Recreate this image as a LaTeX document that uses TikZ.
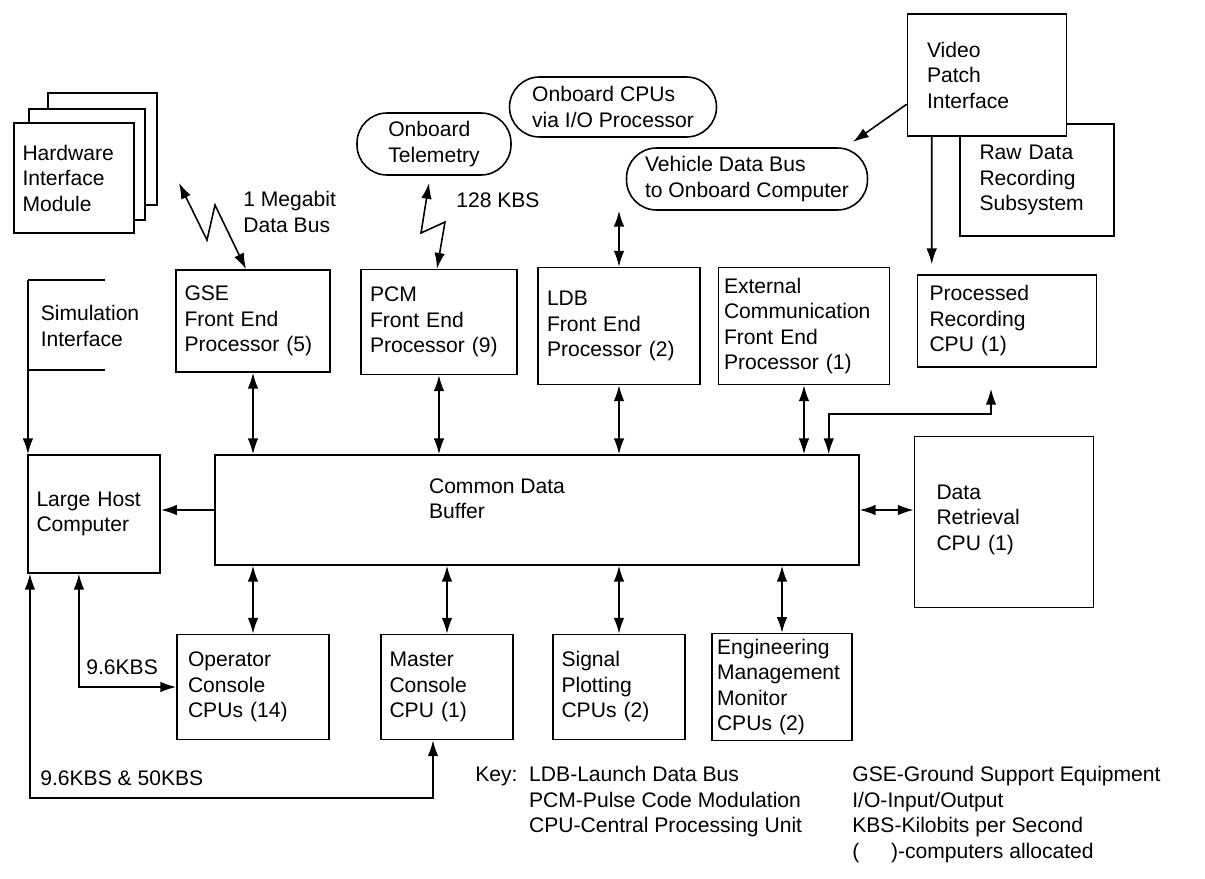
\documentclass[tikz,border=0pt]{standalone}
\usepackage{fontspec}
\setmainfont{Liberation Sans}
\usetikzlibrary{positioning,arrows,arrows.meta,calc,shapes}
\tikzset{
    box/.style = {
        draw,
        shape=rectangle,
        line width=0.9pt,
        align=left,
        inner sep=5pt,
        fill=white
    },
    pill/.style = {
        draw,
        shape=rectangle,
        rounded corners=0.6cm,
        line width=0.9pt,
        align=left,
        inner sep=4pt
    },
    txt/.style = {
        align=left,
        inner sep=0pt
    },
    link/.style = {
        line width=0.9pt
    },
    >={Latex[length=9pt,width=6pt]},
}

\begin{document}
\begin{tikzpicture}[x=0.02cm,y=-0.02cm,font=\fontsize{12}{14.5}\selectfont]
            \useasboundingbox (0,0) rectangle (1205,879);

            % stacked hardware modules
            \draw[box] (48,93) rectangle (157,205);
            \draw[box] (29,109) rectangle (145,220);
            \node[box, minimum width=2.36cm, minimum height=2.2cm, text width=2.06cm] (hardware) at (74,178) {Hardware\\Interface\\Module};

            % external sources
            \node[pill, minimum width=3.08cm, minimum height=1.24cm] (telemetry) at (434,144) {Onboard\\Telemetry};
            \node[pill, minimum width=4.14cm, minimum height=1.2cm] (onboardcpu) at (613,107) {Onboard CPUs\\via I/O Processor};
            \node[pill, minimum width=4.82cm, minimum height=1.24cm] (vehicle) at (747,179) {Vehicle Data Bus\\to Onboard Computer};
            \node[box, minimum width=3.08cm, minimum height=2.24cm, text width=2.3cm] (rawdata) at (1037,180) {Raw Data\\Recording\\Subsystem};
            \node[box, minimum width=3.18cm, minimum height=2.44cm, text width=2.4cm] (video) at (987,75) {Video\\Patch\\Interface};

            % front end processors
            \node[txt] (sim) at (90,326) {Simulation\\Interface};
            \coordinate (simtop) at (105,280);
            \coordinate (simbot) at (105,370);
            \node[box, minimum width=3.04cm, minimum height=2.04cm, text width=2.74cm] (gse) at (253,321) {GSE\\Front End\\Processor (5)};
            \node[box, minimum width=3.06cm, minimum height=2.1cm, text width=2.76cm] (pcm) at (439,322) {PCM\\Front End\\Processor (9)};
            \node[box, minimum width=3.18cm, minimum height=2.34cm, text width=2.88cm] (ldb) at (619,326) {LDB\\Front End\\Processor (2)};
            \node[box, minimum width=3.42cm, minimum height=2.34cm, text width=3.2cm, inner sep=3pt] (extcomm) at (804,326) {External\\Communication\\Front End\\Processor (1)};
            \node[box, minimum width=3.58cm, minimum height=1.84cm, text width=3.1cm] (procrec) at (1007,321) {Processed\\Recording\\CPU (1)};

            % central part
            \node[box, minimum width=12.88cm, minimum height=2.2cm] (buffer) at (537,510) {};
            \node[txt] (buffertext) at (497,499) {Common Data\\Buffer};
            \node[box, minimum width=2.64cm, minimum height=2.36cm, text width=2.3cm] (host) at (94,514) {Large Host\\Computer};
            \node[box, minimum width=3.58cm, minimum height=3.42cm, text width=2.7cm, text depth=1.2cm] (retrieval) at (1004,522) {Data\\Retrieval\\CPU (1)};

            % consoles
            \node[box, minimum width=3.04cm, minimum height=2.1cm, text width=2.6cm] (operator) at (253,687) {Operator\\Console\\CPUs (14)};
            \node[box, minimum width=2.6cm, minimum height=2.1cm, text width=2.3cm] (master) at (447,687) {Master\\Console\\CPU (1)};
            \node[box, minimum width=2.56cm, minimum height=2.1cm, text width=2.3cm] (signal) at (619,687) {Signal\\Plotting\\CPUs (2)};
            \node[box, minimum width=2.7cm, minimum height=2.1cm, text width=2.6cm, inner sep=3pt] (engmon) at (782,687) {Engineering\\Management\\Monitor\\CPUs (2)};

            % data links
            \coordinate (gsetip) at (179,183);
            \coordinate (pcmtip) at (429,183);
            \coordinate (vidtip) at (853,142);
            \draw[link, <->] (gsetip) -- (207,240) -- (215,205) -- ([xshift=-0.14cm]gse.north);
            \node[txt, anchor=west] (megabit) at (243,212) {1 Megabit\\Data Bus};
            \draw[link, <->] (pcmtip) -- (421,233) -- (445,222) -- ([xshift=-0.04cm]pcm.north);
            \node[txt, anchor=west] (kbs) at (456,200) {128 KBS};
            \draw[link, <->] (ldb.north) -- (ldb.north |- vehicle.south);
            \draw[link, ->] (video.200) -- (vidtip);
            \draw[link, ->] ([xshift=0.5cm]video.south west) -- ([xshift=0.3cm, yshift=0.2cm]procrec.north west);

            \draw[link] (simtop) -| ([xshift=0.02cm]host.west |- simtop);
            \draw[link, ->] ([xshift=0.02cm]host.west |- simtop) -- ([xshift=0.02cm]host.north west);
            \draw[link] (simbot) -- (simbot -| host.west);

            \draw[link, <->] (gse.south) -- (gse.south |- buffer.north);
            \draw[link, <->] (pcm.south) -- (pcm.south |- buffer.north);
            \draw[link, <->] (ldb.south) -- (ldb.south |- buffer.north);
            \draw[link, <->] (extcomm.south) -- (extcomm.south |- buffer.north);
            \draw[link, <->] ([xshift=-0.62cm]buffer.north east) -- ++(0,-40) -| ([xshift=-0.32cm, yshift=-0.42cm]procrec.south);
            \draw[link, ->] (buffer.west) -- (buffer.west -| host.east);
            \draw[link, <->] (buffer.east) -- (buffer.east -| retrieval.west);

            \draw[link, <->] (operator.north) -- (operator.north |- buffer.south);
            \draw[link, <->] (master.north) -- (master.north |- buffer.south);
            \draw[link, <->] (signal.north) -- (signal.north |- buffer.south);
            \draw[link, <->] (engmon.north) -- (engmon.north |- buffer.south);

            \draw[link, <->] ([xshift=1.04cm]host.south west) |- (operator.west);
            \node[txt, anchor=west] (slowlink) at (86,667) {9.6KBS};
            \draw[link, <->] ([xshift=0.06cm]host.south west) -- ++(0,224) -| ([xshift=-0.28cm]master.south);
            \node[txt, anchor=west] (fastlink) at (40,778) {9.6KBS \& 50KBS};

            % key
            \node[txt, anchor=north west] (keyleft) at (475,766) {Key:\ \ LDB-Launch Data Bus\\\hspace*{2.55em}PCM-Pulse Code Modulation\\\hspace*{2.55em}CPU-Central Processing Unit};
            \node[txt, anchor=north west] (keyright) at (852,766) {GSE-Ground Support Equipment\\I/O-Input/Output\\KBS-Kilobits per Second\\(\hspace{1.5em})-computers allocated};
        \end{tikzpicture}
\end{document}
